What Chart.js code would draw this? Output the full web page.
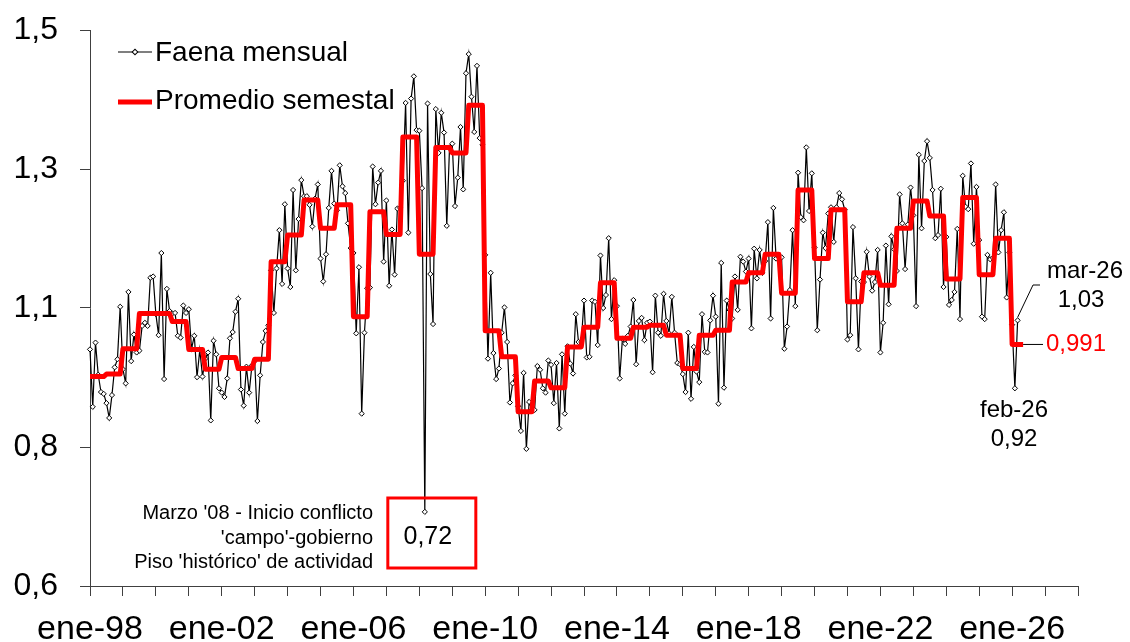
<!DOCTYPE html>
<html><head><meta charset="utf-8">
<script src="https://cdn.jsdelivr.net/npm/chart.js@4.4.1/dist/chart.umd.min.js"></script>
<style>html,body{margin:0;padding:0;background:#fff;} #wrap{width:1130px;height:642px;position:relative;}</style>
</head><body><div id="wrap"><canvas id="c" width="1130" height="642"></canvas></div>
<script>
// ---- categories (months from ene-98 to ene-28) ----
const monthNames = ['ene','feb','mar','abr','may','jun','jul','ago','sep','oct','nov','dic'];
const months = [];
for (let y = 1998; y <= 2028; y++) {
  for (let m = 0; m < 12; m++) {
    if (y === 2028 && m > 0) break;
    months.push(monthNames[m] + '-' + String(y % 100).padStart(2, '0'));
  }
}
const xTickLabels = ['ene-98','ene-02','ene-06','ene-10','ene-14','ene-18','ene-22','ene-26'];
const yTicks = [0.6, 0.825, 1.05, 1.275, 1.5];
const yTickLabels = ['0,6','0,8','1,1','1,3','1,5'];

// ---- Faena mensual (monthly values) ----
const faena1998 = [0.983,0.890,0.994,0.942,0.914,0.911,0.896,0.872,0.909,0.954,0.967,1.052];
const faena1999 = [0.951,0.928,1.076,0.964,1.007,0.978,0.981,1.021,1.026,1.021,1.099,1.101];
const faena2000 = [1.040,1.006,1.139,0.935,1.081,1.045,1.041,1.042,1.005,1.002,1.054,1.042];
const faena2001 = [1.048,0.984,1.005,0.938,0.982,0.939,0.968,0.978,0.868,0.997,0.975,0.920];
const faena2002 = [0.913,0.906,0.936,1.001,1.011,1.044,1.065,0.918,0.892,0.955,0.913,0.957];
const faena2003 = [0.964,0.867,0.941,0.995,1.013,1.022,1.111,1.042,1.114,1.176,1.089,1.218];
const faena2004 = [1.114,1.084,1.241,1.111,1.194,1.257,1.231,1.231,1.217,1.182,1.227,1.250];
const faena2005 = [1.130,1.093,1.137,1.212,1.272,1.219,1.208,1.281,1.247,1.236,1.187,1.147];
const faena2006 = [1.139,1.009,1.116,0.879,1.010,1.082,1.083,1.279,1.218,1.253,1.272,1.125];
const faena2007 = [1.224,1.086,1.177,1.104,1.211,1.212,1.256,1.382,1.172,1.389,1.425,1.338];
const faena2008 = [1.337,1.244,0.720,1.381,1.105,1.024,1.372,1.301,1.366,1.334,1.183,1.310];
const faena2009 = [1.316,1.215,1.261,1.343,1.242,1.430,1.461,1.392,1.335,1.442,1.325,1.314];
const faena2010 = [1.136,0.968,1.107,0.977,0.935,0.952,1.010,1.051,0.995,0.897,0.928,0.941];
const faena2011 = [0.891,0.851,0.945,0.822,0.898,0.885,0.885,0.956,0.950,0.920,0.913,0.965];
const faena2012 = [0.958,0.896,0.961,0.855,0.975,0.879,0.988,0.960,0.944,1.040,0.995,0.995];
const faena2013 = [1.062,0.970,0.971,1.062,1.060,0.990,1.135,1.050,1.071,1.163,1.032,1.095];
const faena2014 = [1.053,0.936,1.000,0.992,1.005,1.020,1.063,0.959,1.029,1.034,0.998,1.026];
const faena2015 = [1.028,0.946,1.070,1.010,1.005,1.073,1.029,1.009,1.068,1.010,0.961,0.959];
const faena2016 = [0.943,0.914,1.010,0.903,0.987,0.947,0.930,1.040,0.979,0.978,1.030,1.070];
const faena2017 = [1.036,0.895,1.123,0.921,1.062,1.047,1.033,1.101,1.047,1.133,1.125,1.109];
const faena2018 = [1.130,1.017,1.146,1.098,1.144,1.107,1.126,1.189,1.033,1.212,1.130,1.132];
const faena2019 = [1.132,0.984,1.020,1.079,1.176,1.053,1.269,1.197,1.192,1.310,1.207,1.268];
const faena2020 = [1.148,1.014,1.096,1.172,1.147,1.203,1.213,1.157,1.213,1.236,1.226,1.209];
const faena2021 = [0.999,1.006,1.181,1.098,0.983,1.093,1.092,1.141,1.101,1.078,1.092,1.144];
const faena2022 = [0.978,1.026,1.151,1.056,1.166,1.145,1.110,1.234,1.187,1.113,1.185,1.245];
const faena2023 = [1.200,1.053,1.298,1.179,1.288,1.320,1.293,1.241,1.163,1.168,1.243,1.084];
const faena2024 = [1.165,1.055,1.063,1.076,1.178,1.032,1.264,1.214,1.210,1.284,1.154,1.246];
const faena2025 = [1.160,1.036,1.032,1.136,1.129,1.131,1.250,1.140,1.176,1.205,1.067,1.140];
const faena2026 = [1.023,0.920,1.030];

// ---- Promedio semestral (one value per semester, H1-98 ... H1-26) ----
const promedioSemestral = [
  0.939,0.943, 0.984,1.041, 1.041,1.028, 0.983,0.951, 0.970,0.952,
  0.967,1.125, 1.168,1.225, 1.179,1.217, 1.036,1.206, 1.169,1.327,
  1.137,1.310, 1.301,1.378, 1.013,0.971, 0.882,0.932, 0.921,0.987,
  1.019,1.091, 1.001,1.019, 1.022,1.006, 0.952,1.006, 1.014,1.092,
  1.107,1.137, 1.074,1.241, 1.130,1.209, 1.060,1.107, 1.087,1.179,
  1.223,1.199, 1.097,1.229, 1.104,1.163, 0.991
];
const promedioUltimoMes = 340; // red line drawn until this month index

const faena = [].concat(faena1998,faena1999,faena2000,faena2001,faena2002,faena2003,faena2004,
  faena2005,faena2006,faena2007,faena2008,faena2009,faena2010,faena2011,faena2012,faena2013,
  faena2014,faena2015,faena2016,faena2017,faena2018,faena2019,faena2020,faena2021,faena2022,
  faena2023,faena2024,faena2025,faena2026);
const promedio = [];
for (let i = 0; i <= promedioUltimoMes; i++) promedio.push(promedioSemestral[Math.floor(i / 6)]);

const FONT = '"Liberation Sans", Arial, Helvetica, sans-serif';
const AXIS = '#404040';

const overlay = {
  id: 'overlay',
  afterDraw(chart) {
    const ctx = chart.ctx;
    const xs = chart.scales.x, ys = chart.scales.y;
    ctx.save();
    // legend
    ctx.strokeStyle = '#000'; ctx.lineWidth = 1.2;
    ctx.beginPath(); ctx.moveTo(118, 52); ctx.lineTo(152, 52); ctx.stroke();
    ctx.save(); ctx.translate(135, 52); ctx.rotate(Math.PI / 4);
    ctx.fillStyle = '#fff'; ctx.fillRect(-2, -2, 4, 4); ctx.lineWidth = 1; ctx.strokeRect(-2, -2, 4, 4);
    ctx.restore();
    ctx.strokeStyle = '#ff0000'; ctx.lineWidth = 5;
    ctx.beginPath(); ctx.moveTo(118, 102); ctx.lineTo(152, 102); ctx.stroke();
    ctx.fillStyle = '#000'; ctx.font = '28px ' + FONT; ctx.textBaseline = 'middle'; ctx.textAlign = 'left';
    ctx.fillText('Faena mensual', 155, 53);
    ctx.fillText('Promedio semestal', 155, 101);

    // March 2008 annotation box
    const iMar08 = 122;
    const px = xs.getPixelForValue(iMar08);
    ctx.strokeStyle = '#ff0000'; ctx.lineWidth = 3;
    ctx.strokeRect(px - 37, 498, 88, 70);
    ctx.fillStyle = '#000'; ctx.font = '25px ' + FONT; ctx.textAlign = 'center';
    ctx.fillText('0,72', px + 3, 537);
    ctx.font = '20px ' + FONT; ctx.textAlign = 'right';
    ctx.fillText("Marzo '08 - Inicio conflicto", 373, 513);
    ctx.fillText("'campo'-gobierno", 373, 538);
    ctx.fillText("Piso 'histórico' de actividad", 373, 562);

    // last values
    const iLast = faena.length - 1;
    const lx = xs.getPixelForValue(iLast), ly = ys.getPixelForValue(faena[iLast]);
    ctx.strokeStyle = '#000'; ctx.lineWidth = 1;
    ctx.beginPath(); ctx.moveTo(lx, ly - 3); ctx.lineTo(1033, 285); ctx.lineTo(1040, 285); ctx.stroke();
    ctx.font = '24px ' + FONT; ctx.textAlign = 'center'; ctx.fillStyle = '#000';
    ctx.fillText('mar-26', 1085, 271);
    ctx.fillText('1,03', 1081, 300);
    ctx.fillText('feb-26', 1014, 410);
    ctx.fillText('0,92', 1014, 439);
    const rx = xs.getPixelForValue(promedioUltimoMes), ry = ys.getPixelForValue(promedioSemestral[promedioSemestral.length - 1]);
    ctx.beginPath(); ctx.moveTo(rx, ry); ctx.lineTo(1043, ry); ctx.stroke();
    ctx.fillStyle = '#ff0000'; ctx.textAlign = 'left';
    ctx.fillText('0,991', 1046, ry);
    ctx.restore();
  }
};

new Chart(document.getElementById('c'), {
  type: 'line',
  data: {
    labels: months,
    datasets: [
      { label: 'Promedio semestal', data: promedio, borderColor: '#ff0000', borderWidth: 5,
        pointRadius: 0, tension: 0, order: 0, borderJoinStyle: 'round' },
      { label: 'Faena mensual', data: faena, borderColor: '#000', borderWidth: 1.2, tension: 0,
        pointStyle: 'rectRot', pointRadius: 2.6, pointBackgroundColor: '#fff',
        pointBorderColor: '#000', pointBorderWidth: 1, order: 1 }
    ]
  },
  options: {
    responsive: false, animation: false, devicePixelRatio: 1,
    layout: { padding: { left: 0, right: 52, top: 30, bottom: 0 } },
    plugins: { legend: { display: false }, tooltip: { enabled: false } },
    scales: {
      x: {
        type: 'category', offset: false,
        grid: { drawOnChartArea: false, drawTicks: true, tickLength: 10,
          tickColor: c => (c.index % 12 === 0 ? AXIS : 'rgba(0,0,0,0)'), tickWidth: 1 },
        border: { color: AXIS, width: 1 },
        ticks: { autoSkip: false, maxRotation: 0, minRotation: 0, padding: 13, color: '#000',
          font: { family: FONT, size: 34 },
          callback: (v, i) => (i % 48 === 0 ? xTickLabels[i / 48] : '') },
        afterFit: s => { s.height = 56; }
      },
      y: {
        min: 0.6, max: 1.5,
        afterBuildTicks: s => { s.ticks = yTicks.map(v => ({ value: v })); },
        grid: { drawOnChartArea: false, drawTicks: true, tickLength: 10, tickColor: AXIS },
        border: { color: AXIS, width: 1 },
        ticks: { padding: 22, color: '#000', font: { family: FONT, size: 32 },
          callback: (v, i) => yTickLabels[i] },
        afterFit: s => { s.width = 90; s.paddingTop = 0; s.paddingBottom = 0; }
      }
    }
  },
  plugins: [overlay]
});
</script>
</body></html>
